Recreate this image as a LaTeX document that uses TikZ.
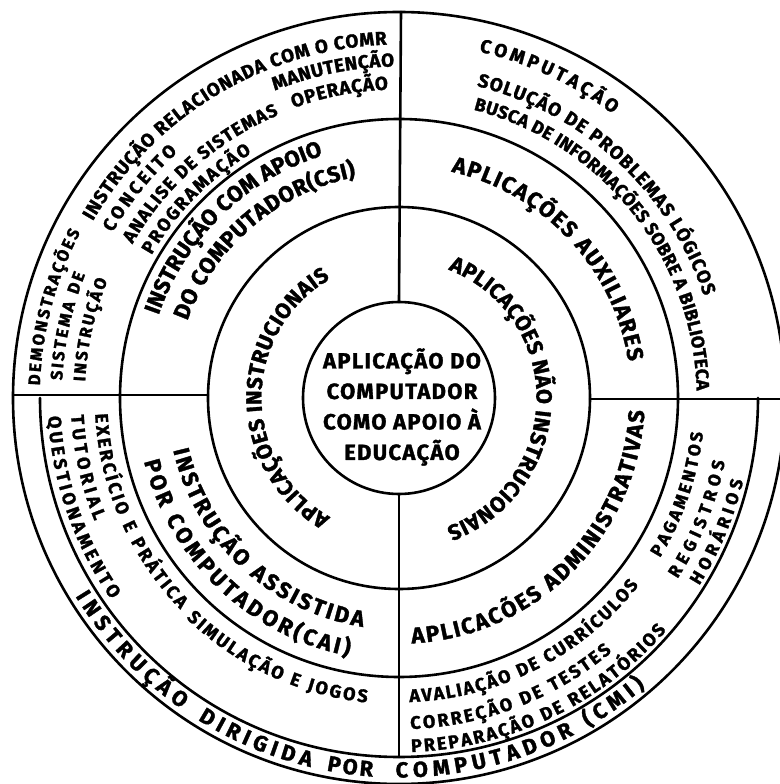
\documentclass[tikz,border=0pt]{standalone}
\usepackage{fontspec}
\setmainfont{Fira Sans}[BoldFeatures={FakeBold=1.5}]
\usetikzlibrary{decorations.text}

\tikzset{
  ring/.style={line width=2.6pt, draw=black, line cap=round},
}

% #1: +1 letters face outward (clockwise), -1 letters face inward (anticlockwise)
% #2: radius of the middle of the letters, #3/#4: start/end angle,
% #5: cap height, #6: the text
\newcommand\ringtext[6]{%
  \pgfmathsetmacro\rtBase{#2-#1*#5/2}%
  \pgfmathsetmacro\rtSize{#5/0.689}%
  \path[decorate,decoration={text along path,text align={fit to path},
    text={|\fontsize{\rtSize}{\rtSize}\selectfont\bfseries|#6}}]
    (#3:\rtBase) arc[start angle=#3,end angle=#4,radius=\rtBase];}

\begin{document}
\begin{tikzpicture}[x=1pt,y=1pt]
\useasboundingbox (-399,-386) rectangle (380,398);

% rings
\draw[ring] (0,0) circle[radius=96];
\draw[ring] (0,0) circle[radius=191];
\draw[ring] (0,0) circle[radius=279];
\draw[ring] (0,0) circle[radius=386];
\draw[ring] (180:359) arc[start angle=180,end angle=360,radius=359];

% dividing lines
\draw[ring] (0,96) -- (2,386);
\draw[ring] (0,-96) -- (0,-359);
\draw[ring] (-386,3) -- (-191,3);
\draw[ring] (191,-1) -- (386,-1);

% hub
\node[font=\fontsize{22}{30.5}\selectfont\bfseries\addfontfeatures{LetterSpace=6},
      align=center] (hub) at (3,-9)
  {APLICAÇÃO DO\\COMPUTADOR\\COMO APOIO À\\EDUCAÇÃO};

% inner ring
\ringtext{1}{145}{240}{120}{15}{APLICAÇÕES INSTRUCIONAIS}
\ringtext{1}{145}{69}{-70}{15}{APLICAÇÕES NÃO INSTRUCIONAIS}

% second ring
\ringtext{1}{262}{161}{108}{15.5}{INSTRUÇÃO COM APOIO}
\ringtext{1}{233}{160}{101}{15.5}{DO COMPUTADOR(CSI)}
\ringtext{1}{240}{77}{9}{15.5}{APLICAÇÕES AUXILIARES}
\ringtext{-1}{238}{-87}{-3}{15.5}{APLICACÕES ADMINISTRATIVAS}
\ringtext{-1}{224}{193}{261}{15.5}{INSTRUÇÃO ASSISTIDA}
\ringtext{-1}{255}{194}{259}{15.5}{POR COMPUTADOR(CAI)}

% outer ring, upper left
\ringtext{1}{360}{150}{92}{13}{INSTRUÇÃO RELACIONADA COM O COMR}
\ringtext{1}{337}{150}{132}{12.5}{CONCEITO}
\ringtext{1}{314}{150}{113}{12.5}{ANALISE DE SISTEMAS}
\ringtext{1}{292}{150}{121}{12.5}{PROGRAMAÇÃO}
\ringtext{1}{338}{112}{90.8}{13}{MANUTENÇÃO}
\ringtext{1}{315}{110}{92}{13}{OPERAÇÃO}
\ringtext{1}{365}{178}{152.5}{11.5}{DEMONSTRAÇÕES}
\ringtext{1}{343}{177}{158.5}{11.5}{SISTEMA DE}
\ringtext{1}{320}{177}{158}{11.5}{INSTRUÇÃO}

% outer ring, upper right
\ringtext{1}{362}{77}{53}{13}{COMPUTAÇÃO}
\ringtext{1}{328}{76}{18.5}{13}{SOLUÇÃO DE PROBLEMAS LÓGICOS}
\ringtext{1}{304}{75.5}{1.5}{12.5}{BUSCA DE INFORMAÇÕES SOBRE A BIBLIOTECA}

% outer ring, lower right
\ringtext{-1}{298}{-88}{-38}{12.5}{AVALIAÇÃO DE CURRÍCULOS}
\ringtext{-1}{325}{-88}{-50}{12.5}{CORREÇÃO DE TESTES}
\ringtext{-1}{348}{-88}{-41}{12.5}{PREPARAÇÃO DE RELATÓRIOS}
\ringtext{-1}{300}{-31.5}{-6.5}{12}{PAGAMENTOS}
\ringtext{-1}{326}{-33}{-11}{12}{REGISTROS}
\ringtext{-1}{348}{-32}{-13.5}{12}{HORÁRIOS}

% outer ring, lower left
\ringtext{-1}{298}{183}{224}{12.5}{EXERCÍCIO E PRÁTICA}
\ringtext{-1}{322}{183}{202}{12.5}{TUTORIAL}
\ringtext{-1}{345}{183}{215}{12.5}{QUESTIONAMENTO}
\ringtext{-1}{300}{226}{264}{12.5}{SIMULAÇÃO E JOGOS}

% lower band, one word group at a time
\ringtext{-1}{372}{211.5}{235}{15}{INSTRUÇÃO}
\ringtext{-1}{372}{238}{256.5}{15}{DIRIGIDA}
\ringtext{-1}{372}{259}{266}{15}{POR}
\ringtext{-1}{372}{269.5}{310.5}{15}{COMPUTADOR (CMI)}
\end{tikzpicture}
\end{document}
